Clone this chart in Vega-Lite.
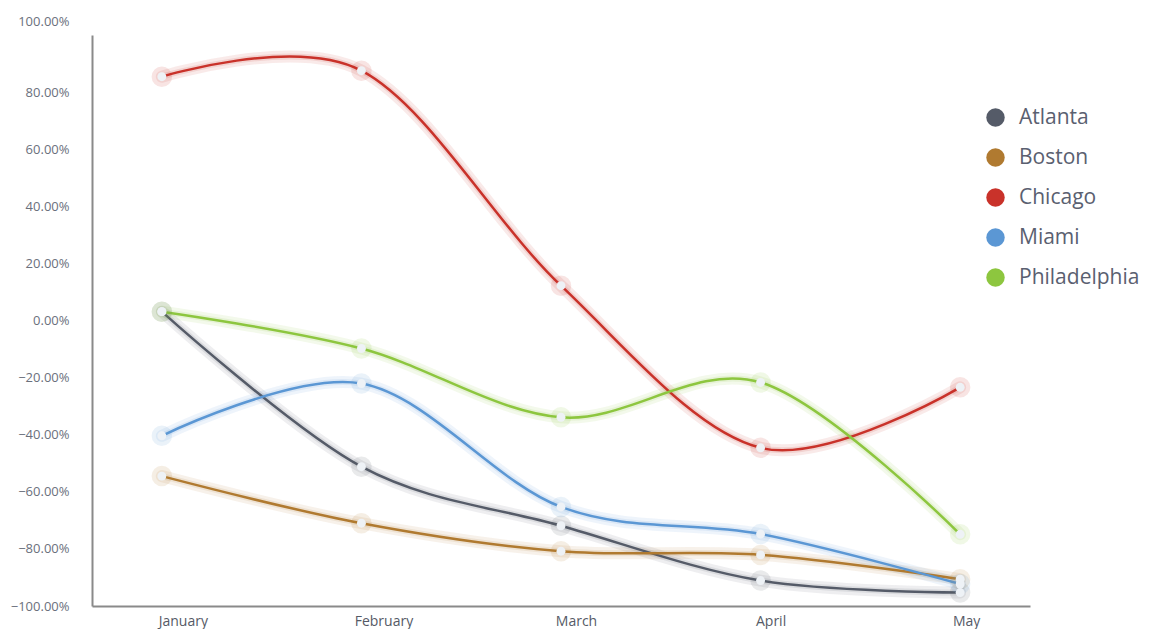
{
  "$schema": "https://vega.github.io/schema/vega-lite/v6.json",
  "width": 938,
  "height": 571,
  "autosize": {"type": "none"},
  "padding": {"left": 92, "top": 35, "right": 127, "bottom": 23},
  "background": "#ffffff",
  "config": {
    "view": {"stroke": null},
    "font": "Open Sans"
  },
  "data": {
    "values": [
      {"month": "January", "city": "Atlanta", "value": 0.031},
      {"month": "February", "city": "Atlanta", "value": -0.512},
      {"month": "March", "city": "Atlanta", "value": -0.719},
      {"month": "April", "city": "Atlanta", "value": -0.911},
      {"month": "May", "city": "Atlanta", "value": -0.953},
      {"month": "January", "city": "Boston", "value": -0.545},
      {"month": "February", "city": "Boston", "value": -0.71},
      {"month": "March", "city": "Boston", "value": -0.808},
      {"month": "April", "city": "Boston", "value": -0.821},
      {"month": "May", "city": "Boston", "value": -0.906},
      {"month": "January", "city": "Chicago", "value": 0.854},
      {"month": "February", "city": "Chicago", "value": 0.875},
      {"month": "March", "city": "Chicago", "value": 0.122},
      {"month": "April", "city": "Chicago", "value": -0.446},
      {"month": "May", "city": "Chicago", "value": -0.234},
      {"month": "January", "city": "Miami", "value": -0.404},
      {"month": "February", "city": "Miami", "value": -0.221},
      {"month": "March", "city": "Miami", "value": -0.653},
      {"month": "April", "city": "Miami", "value": -0.748},
      {"month": "May", "city": "Miami", "value": -0.923},
      {"month": "January", "city": "Philadelphia", "value": 0.031},
      {"month": "February", "city": "Philadelphia", "value": -0.098},
      {"month": "March", "city": "Philadelphia", "value": -0.339},
      {"month": "April", "city": "Philadelphia", "value": -0.217},
      {"month": "May", "city": "Philadelphia", "value": -0.749}
    ]
  },
  "encoding": {
    "x": {
      "field": "month",
      "type": "ordinal",
      "sort": ["January", "February", "March", "April", "May"],
      "scale": {"type": "point", "padding": 0.35},
      "axis": {
        "title": null,
        "labelAngle": 0,
        "ticks": false,
        "domainColor": "#8a8a8a",
        "domainWidth": 2,
        "labelColor": "#555a66",
        "labelFontSize": 14,
        "labelFont": "Open Sans",
        "labelPadding": 8,
        "labelOffset": {
          "condition": [
            {"test": "datum.value == 'January'", "value": 21},
            {"test": "datum.value == 'February'", "value": 22},
            {"test": "datum.value == 'March'", "value": 15},
            {"test": "datum.value == 'April'", "value": 10}
          ],
          "value": 6
        }
      }
    },
    "y": {
      "field": "value",
      "type": "quantitative",
      "scale": {"domain": [-1, 1], "nice": false, "zero": false},
      "axis": {
        "title": null,
        "format": ".2%",
        "values": [-1, -0.8, -0.6, -0.4, -0.2, 0, 0.2, 0.4, 0.6, 0.8, 1],
        "ticks": false,
        "grid": false,
        "domainColor": "#8a8a8a",
        "domainWidth": 2,
        "labelColor": "#6b707c",
        "labelFontSize": 13,
        "labelFont": "Open Sans",
        "labelPadding": 23,
        "labelOverlap": false,
        "labelFlush": false,
        "labelOffset": {"condition": {"test": "datum.value >= 0.99", "value": -14}, "value": 0}
      }
    },
    "color": {
      "field": "city",
      "type": "nominal",
      "scale": {
        "domain": ["Atlanta", "Boston", "Chicago", "Miami", "Philadelphia"],
        "range": ["#555b68", "#b07a30", "#c9322a", "#5b97d4", "#8dc63f"]
      },
      "legend": {
        "title": null,
        "orient": "none",
        "legendX": 893,
        "legendY": 72,
        "symbolType": "circle",
        "symbolSize": 340,
        "symbolStrokeWidth": 0,
        "symbolOpacity": 1,
        "labelFontSize": 21,
        "labelFont": "Open Sans",
        "labelColor": "#5a6070",
        "labelOffset": 13,
        "rowPadding": 18,
        "labelLimit": 300
      }
    }
  },
  "layer": [
    {
      "mark": {"type": "line", "interpolate": "cardinal", "strokeWidth": 12, "opacity": 0.1, "strokeCap": "round"}
    },
    {
      "mark": {"type": "line", "interpolate": "cardinal", "strokeWidth": 6, "opacity": 0.12, "strokeCap": "round"}
    },
    {
      "mark": {"type": "line", "interpolate": "cardinal", "strokeWidth": 2.5}
    },
    {
      "mark": {"type": "point", "filled": true, "size": 420, "opacity": 0.13, "shape": "circle"}
    },
    {
      "mark": {"type": "point", "filled": true, "size": 80, "opacity": 1, "shape": "circle"},
      "encoding": {"color": {"value": "#eef2f6"}}
    }
  ]
}
